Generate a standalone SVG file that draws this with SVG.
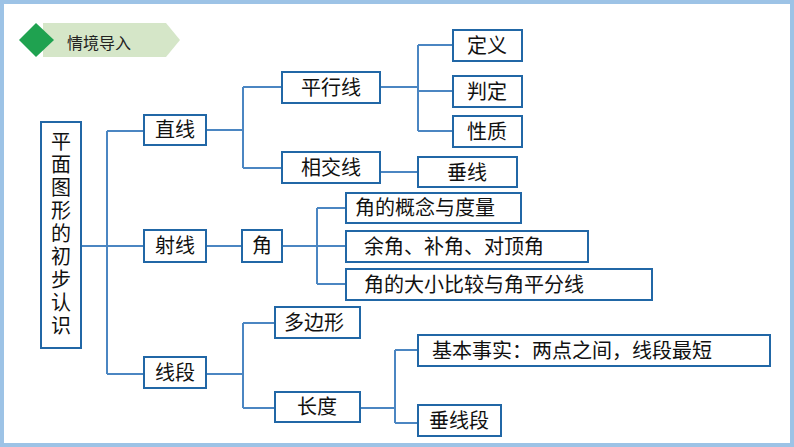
<svg xmlns="http://www.w3.org/2000/svg" width="794" height="447" viewBox="0 0 794 447">
<style>
.b{fill:#fff;stroke:#2167A6;stroke-width:2}
.t{font-family:"Noto Sans CJK SC",sans-serif;font-size:20px;fill:#111;text-anchor:middle}
.l{text-anchor:start}
.c path{fill:none;stroke:#4B86C2;stroke-width:2}
</style>
<rect x="0" y="0" width="794" height="447" fill="#9DC3E6"/>
<rect x="4" y="4" width="786" height="439" fill="#fff"/>
<g id="header">
<polygon points="43,23 166,23 180,40 166,57 43,57" fill="#D5E6C8"/>
<polygon points="36,23 54,40 36,57 19,40" fill="#1FA250"/>
<text x="67" y="49" style="font-family:'Noto Sans CJK SC',sans-serif;font-size:16px;fill:#222">情境导入</text>
</g>
<g class="c" id="connectors">
<path d="M81,246H144M107,131V374M107,131H144M107,374H144"/>
<path d="M206,130H243M243,87V168M243,87H282M243,168H282"/>
<path d="M380,87H418M418,45V131M418,45H453M418,91H453M418,131H453"/>
<path d="M380,172H418"/>
<path d="M206,246H242M282,246H346M317,208V284M317,208H346M317,284H346"/>
<path d="M206,374H243M243,323V408M243,323H275M243,408H275"/>
<path d="M360,408H395M395,350V423M395,350H418M395,423H418"/>
</g>
<g id="root"><rect class="b" x="41" y="122" width="40" height="226"/>
<text class="t" x="61" y="235" style="writing-mode:vertical-rl;letter-spacing:3px">平面图形的初步认识</text></g>
<g id="n_zhixian"><rect class="b" x="144" y="115" width="62" height="30"/><text class="t" x="175" y="137">直线</text></g>
<g id="n_shexian"><rect class="b" x="144" y="230" width="62" height="32"/><text class="t" x="175" y="253">射线</text></g>
<g id="n_xianduan"><rect class="b" x="144" y="357" width="62" height="31"/><text class="t" x="175" y="380">线段</text></g>
<g id="n_pingxing"><rect class="b" x="282" y="72" width="98" height="31"/><text class="t" x="331" y="95">平行线</text></g>
<g id="n_xiangjiao"><rect class="b" x="282" y="152" width="98" height="31"/><text class="t" x="331" y="175">相交线</text></g>
<g id="n_dingyi"><rect class="b" x="453" y="30" width="69" height="31"/><text class="t" x="487" y="53">定义</text></g>
<g id="n_panding"><rect class="b" x="453" y="76" width="69" height="31"/><text class="t" x="487" y="99">判定</text></g>
<g id="n_xingzhi"><rect class="b" x="453" y="116" width="69" height="31"/><text class="t" x="487" y="139">性质</text></g>
<g id="n_chuixian"><rect class="b" x="418" y="157" width="99" height="30"/><text class="t" x="467" y="180">垂线</text></g>
<g id="n_jiao"><rect class="b" x="242" y="230" width="40" height="32"/><text class="t" x="262" y="253">角</text></g>
<g id="n_j1"><rect class="b" x="346" y="193" width="175" height="30"/><text class="t l" x="355" y="215">角的概念与度量</text></g>
<g id="n_j2"><rect class="b" x="346" y="231" width="242" height="31"/><text class="t l" x="364" y="254">余角、补角、对顶角</text></g>
<g id="n_j3"><rect class="b" x="346" y="269" width="306" height="31"/><text class="t l" x="364" y="292">角的大小比较与角平分线</text></g>
<g id="n_duobian"><rect class="b" x="275" y="307" width="85" height="31"/><text class="t l" x="284" y="330">多边形</text></g>
<g id="n_changdu"><rect class="b" x="275" y="392" width="85" height="30"/><text class="t" x="317" y="414">长度</text></g>
<g id="n_jiben"><rect class="b" x="418" y="335" width="352" height="31"/><text class="t l" x="432" y="358">基本事实：两点之间，线段最短</text></g>
<g id="n_chuixianduan"><rect class="b" x="418" y="405" width="83" height="31"/><text class="t" x="459" y="428">垂线段</text></g>
</svg>
